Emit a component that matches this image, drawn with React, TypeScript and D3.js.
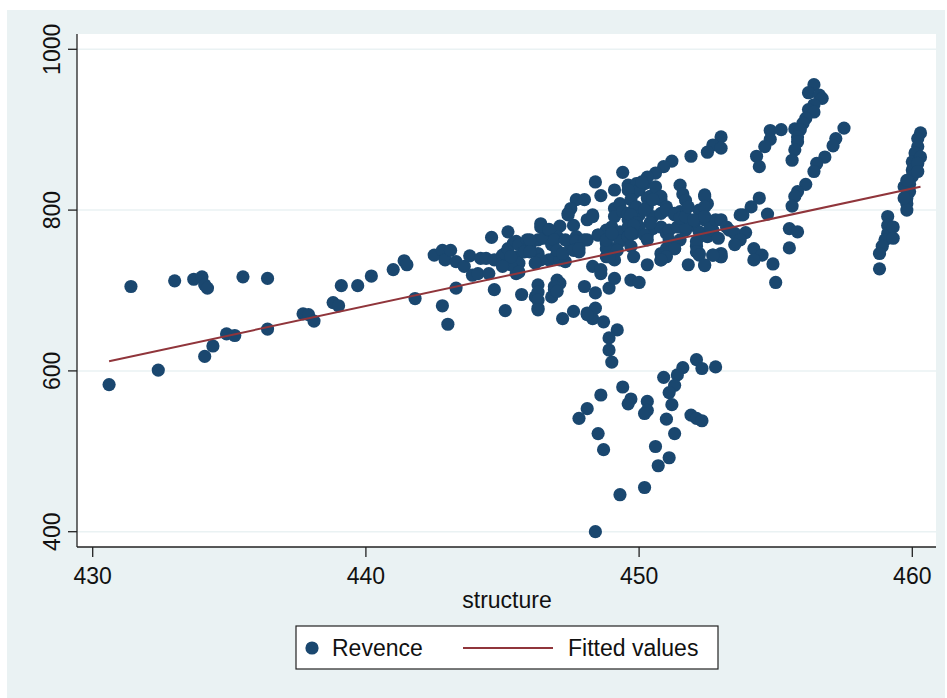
import React from "react";
import * as d3 from "d3";

// Revence vs structure (Stata-style scatter with linear fit)
const structure: number[] = [
  430.6, 431.4, 432.4, 433.0, 433.7, 434.0, 434.1, 434.2, 434.1, 434.4, 434.9, 435.2, 435.5, 436.4, 436.4,
  437.7, 437.9, 438.1, 438.8, 439.0, 439.1, 439.7, 440.2, 441.0, 441.4, 441.5, 441.8, 442.5, 442.8, 442.9,
  443.1, 442.8, 443.0, 443.3, 443.6, 443.8, 443.3, 443.9, 444.1, 444.5, 444.6, 444.7, 445.2,
  444.2, 444.4, 444.7, 445.0, 445.0, 445.1, 445.2, 445.4, 445.5, 445.6, 445.9, 446.0, 445.5, 445.6, 445.5,
  445.3, 445.6, 445.8, 445.3, 445.0, 445.1, 445.7, 446.3, 446.3, 446.4, 446.5, 446.7, 447.1, 447.0, 446.4,
  446.7, 446.0, 446.0, 446.8, 447.0, 446.7, 447.2, 447.5, 447.8, 448.1, 447.8, 446.4, 446.2, 446.9, 447.1,
  447.3, 446.3, 446.2, 446.3, 446.3, 446.3, 446.3, 446.8, 446.9, 447.1, 447.0, 446.9, 447.0, 447.2, 447.6,
  447.6, 447.7, 446.9, 447.3, 447.7, 448.0, 447.0, 447.2, 447.6, 447.8,
  447.7, 448.0, 447.5, 447.4, 447.4, 448.1, 448.3, 448.3, 448.4, 448.6, 449.1, 449.4, 449.6, 449.9, 450.2,
  449.8, 450.0, 450.3, 449.1, 449.1, 449.3, 449.4, 449.6, 449.6, 449.7, 449.6, 449.8, 449.8, 449.9, 450.0,
  450.3, 450.5, 450.4, 450.8, 450.6, 450.8, 450.5, 451.0, 450.8, 449.9, 450.2, 449.7,
  448.5, 448.8, 449.0, 449.1, 449.3, 449.6, 449.9, 448.8, 449.1, 449.3, 449.6, 449.8, 450.0, 450.3, 450.5,
  450.8, 448.8, 449.1, 448.8, 449.2, 448.9, 449.6, 449.7, 449.8, 448.5, 448.8, 449.0, 450.4, 450.0, 449.8,
  449.7, 450.2, 450.3,
  451.0, 451.1, 451.3, 451.5, 451.7, 452.0, 452.2, 452.5, 452.7, 452.9, 450.8, 450.8, 451.0, 452.1, 452.2,
  452.7, 453.0, 451.8, 452.4, 450.3, 451.0, 451.3, 451.5, 451.7, 452.0, 452.2, 452.4, 452.6, 452.8, 452.4,
  452.5, 451.1, 451.4, 451.7, 451.1, 451.3, 451.0, 450.8, 451.3, 451.5, 451.7, 452.0, 453.0, 453.2, 453.3,
  453.7, 452.1, 452.1, 452.2, 453.0,
  453.0, 452.7, 452.5, 451.9, 451.2, 450.9, 450.6, 450.3, 450.1, 451.5, 451.6, 451.7, 451.8, 453.0, 452.4,
  452.4, 452.4,
  448.3, 448.6, 448.0, 448.4, 448.1, 448.4, 448.3, 448.1, 448.7, 448.9, 449.1, 449.7, 450.0, 449.2, 448.9,
  448.9, 449.0, 448.6,
  450.9, 451.6, 451.4, 451.3, 452.1, 452.3, 452.8, 451.1, 451.2, 449.4, 448.6, 448.1, 447.8, 449.7, 449.6,
  450.3, 450.3, 450.2, 451.0, 451.3, 451.9, 452.1, 452.3, 448.5, 448.7, 450.6, 451.1, 450.7, 449.3, 450.2,
  448.4,
  453.5, 453.9, 453.7, 453.5, 453.0, 452.7, 452.4, 454.2, 454.5, 454.2, 454.9, 455.0, 455.5, 455.8, 455.5,
  454.4, 454.1, 453.8, 454.7, 454.8, 455.2, 454.8, 454.6, 454.3, 454.4, 455.7, 456.4, 456.2, 456.6, 456.7,
  456.4, 456.2, 456.4, 456.1, 456.0, 455.9, 455.8, 455.8, 455.7, 455.6, 457.5, 457.2, 457.1, 456.8, 456.5,
  456.4, 456.1, 455.8, 455.7, 455.6,
  459.1, 459.1, 459.1, 459.0, 458.9, 458.8, 458.8, 459.3, 459.3, 460.3, 460.2, 460.2, 460.1, 460.0, 460.0,
  460.0, 459.9, 459.9, 459.8, 459.8, 459.8, 460.3, 460.2, 460.2, 459.7, 459.7, 459.8,
];

const revence: number[] = [
  583, 705, 601, 712, 714, 717, 707, 703, 618, 631, 646, 644, 717, 715, 652,
  671, 670, 662, 685, 681, 706, 706, 718, 726, 737, 732, 690, 744, 750, 738,
  750, 681, 658, 736, 730, 743, 703, 719, 721, 721, 766, 701, 773,
  740, 740, 738, 744, 734, 746, 752, 759, 761, 757, 763, 755, 742, 734, 721,
  732, 723, 748, 742, 730, 675, 695, 763, 746, 779, 765, 775, 780, 767, 783,
  776, 763, 748, 757, 746, 738, 746, 755, 757, 763, 748, 738, 734, 740, 738,
  736, 707, 692, 678, 698, 688, 676, 692, 701, 709, 713, 705, 699, 665, 674,
  781, 767, 763, 763, 761, 763, 750, 746, 750, 752,
  813, 813, 802, 796, 794, 788, 794, 792, 835, 818, 825, 847, 831, 833, 833,
  821, 825, 815, 802, 792, 808, 798, 788, 825, 813, 796, 779, 800, 788, 794,
  804, 792, 817, 813, 829, 817, 813, 804, 796, 804, 800, 794,
  769, 775, 779, 769, 773, 779, 784, 759, 752, 761, 767, 771, 775, 769, 777,
  779, 742, 738, 752, 750, 742, 767, 755, 742, 769, 763, 771, 784, 779, 781,
  771, 769, 763,
  771, 759, 752, 763, 775, 781, 773, 767, 775, 765, 746, 738, 752, 755, 746,
  744, 746, 732, 731, 732, 800, 794, 798, 788, 786, 800, 788, 779, 788, 819,
  808, 775, 779, 779, 763, 752, 742, 738, 796, 790, 792, 788, 788, 779, 775,
  794, 761, 748, 744, 742,
  891, 881, 872, 867, 861, 854, 846, 841, 835, 831, 820, 812, 804, 877, 817,
  804, 792,
  730, 721, 705, 697, 672, 678, 665, 670, 661, 703, 715, 713, 710, 651, 641,
  626, 611, 726,
  592, 604, 595, 582, 614, 603, 605, 573, 558, 580, 570, 553, 541, 565, 559,
  562, 551, 547, 540, 522, 545, 541, 538, 522, 502, 506, 492, 482, 446, 455,
  400,
  771, 772, 763, 757, 742, 744, 732, 752, 744, 738, 733, 710, 777, 773, 753,
  815, 804, 794, 795, 899, 900, 888, 879, 867, 854, 901, 956, 946, 943, 939,
  931, 925, 922, 914, 908, 900, 891, 885, 875, 862, 902, 889, 880, 866, 858,
  848, 832, 823, 817, 805,
  792, 781, 771, 763, 755, 746, 727, 779, 765, 896, 889, 879, 871, 860, 850,
  842, 832, 823, 815, 808, 800, 866, 858, 848, 829, 815, 837,
];

// Fitted values (linear fit endpoints)
const fitStructure: number[] = [430.6, 460.3];
const fitValues: number[] = [612, 829];

const xTicks: number[] = [430, 440, 450, 460];
const yTicks: number[] = [400, 600, 800, 1000];
const xTitle = "structure";
const legendLabels: string[] = ["Revence", "Fitted values"];

const W = 947;
const H = 698;
const BG = "#EAF2F3";
const NAVY = "#1A476F";
const MAROON = "#90353B";
const FONT = "'Liberation Sans', Arial, sans-serif";

export default function App() {
  const plot = { left: 77, right: 936, top: 34, bottom: 547 };
  const x = d3.scaleLinear().domain([430, 460]).range([92.7, 912.3]);
  const y = d3.scaleLinear().domain([400, 1000]).range([531.7, 49.3]);

  const pts = structure.map((s, i) => ({ s, r: revence[i] }));
  const line = d3
    .line<number>()
    .x((d) => x(d))
    .y((_, i) => y(fitValues[i]));

  return (
    <svg
      width={W}
      height={H}
      style={{ position: "absolute", left: 0, top: 0, background: "#ffffff" }}
      fontFamily={FONT}
    >
      <rect x={7} y={10} width={938} height={688} fill={BG} />
      <rect
        x={plot.left}
        y={plot.top}
        width={plot.right - plot.left}
        height={plot.bottom - plot.top}
        fill="#ffffff"
      />
      {yTicks.map((t) => (
        <line
          key={"g" + t}
          x1={plot.left}
          x2={plot.right}
          y1={y(t)}
          y2={y(t)}
          stroke={BG}
          strokeWidth={1.5}
        />
      ))}
      {pts.map((p, i) => (
        <circle key={i} cx={x(p.s)} cy={y(p.r)} r={6.6} fill={NAVY} />
      ))}
      <path
        d={line(fitStructure) || ""}
        fill="none"
        stroke={MAROON}
        strokeWidth={2}
      />
      {/* axes */}
      <line x1={plot.left} x2={plot.left} y1={plot.top} y2={plot.bottom} stroke="#222" strokeWidth={1.3} />
      <line x1={plot.left} x2={plot.right} y1={plot.bottom} y2={plot.bottom} stroke="#222" strokeWidth={1.3} />
      {yTicks.map((t) => (
        <g key={"yt" + t}>
          <line x1={68} x2={plot.left} y1={y(t)} y2={y(t)} stroke="#222" strokeWidth={1.3} />
          <text
            transform={`translate(60,${y(t)}) rotate(-90)`}
            textAnchor="middle"
            fontSize={23}
            fill="#111"
          >
            {t}
          </text>
        </g>
      ))}
      {xTicks.map((t) => (
        <g key={"xt" + t}>
          <line x1={x(t)} x2={x(t)} y1={plot.bottom} y2={557} stroke="#222" strokeWidth={1.3} />
          <text x={x(t)} y={584} textAnchor="middle" fontSize={23} fill="#111">
            {t}
          </text>
        </g>
      ))}
      <text x={507} y={608} textAnchor="middle" fontSize={23} fill="#111">
        {xTitle}
      </text>
      {/* legend */}
      <rect x={296} y={626} width={422} height={43} fill="#ffffff" stroke="#222" strokeWidth={1.2} />
      <circle cx={312} cy={648} r={6.6} fill={NAVY} />
      <text x={332} y={656} fontSize={23} fill="#111">
        {legendLabels[0]}
      </text>
      <line x1={463} x2={553} y1={648} y2={648} stroke={MAROON} strokeWidth={2} />
      <text x={568} y={656} fontSize={23} fill="#111">
        {legendLabels[1]}
      </text>
    </svg>
  );
}
